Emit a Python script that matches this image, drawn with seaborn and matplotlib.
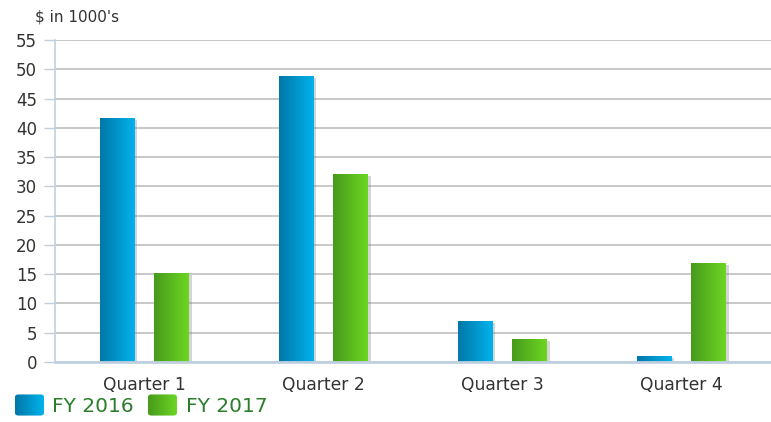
import numpy as np
import pandas as pd
import matplotlib
matplotlib.use("Agg")
import matplotlib.pyplot as plt
import matplotlib.patheffects as pe
from matplotlib.colors import LinearSegmentedColormap
from matplotlib.patches import Rectangle, FancyBboxPatch
import seaborn as sns

quarters = ["Quarter 1", "Quarter 2", "Quarter 3", "Quarter 4"]
series_names = ["FY 2016", "FY 2017"]
fy2016 = [41.6, 48.8, 6.9, 1.0]
fy2017 = [15.1, 32.0, 3.8, 16.8]
y_ticks = [0, 5, 10, 15, 20, 25, 30, 35, 40, 45, 50, 55]
y_title = "$ in 1000's"

grad_colors = {
    "FY 2016": ("#0078a8", "#00b2ec"),
    "FY 2017": ("#489a1c", "#6cd622"),
}

df = pd.DataFrame({
    "quarter": quarters * 2,
    "series": [series_names[0]] * 4 + [series_names[1]] * 4,
    "value": fy2016 + fy2017,
})

sns.set_theme(style="white")
plt.rcParams["font.family"] = ["DejaVu Sans"]

fig = plt.figure(figsize=(7.71, 4.22), dpi=100)
ax = fig.add_axes([55 / 771, 1 - 362 / 422, 1 - 55 / 771, (362 - 40) / 422])

sns.barplot(data=df, x="quarter", y="value", hue="series", order=quarters,
            hue_order=series_names, width=0.61, gap=0.36,
            palette=[grad_colors[s][1] for s in series_names], ax=ax,
            legend=False, zorder=3)

ax.set_xlim(-0.5, len(quarters) - 0.5)
ax.set_ylim(0, 55)
ax.set_yticks(y_ticks)
ax.set_xlabel("")
ax.set_ylabel("")

# gradient fill + soft shadow
bars = [p for p in ax.patches if isinstance(p, Rectangle) and p.get_height() > 0]
grad = np.linspace(0, 1, 64).reshape(1, -1)
for i, p in enumerate(bars):
    s = series_names[0] if p.get_facecolor()[2] > 0.5 else series_names[1]
    cmap = LinearSegmentedColormap.from_list("g", grad_colors[s])
    x0, y0, w, h = p.get_x(), p.get_y(), p.get_width(), p.get_height()
    p.set_facecolor("#dddddd")
    p.set_edgecolor("none")
    p.set_path_effects([pe.withSimplePatchShadow(offset=(2, -1), shadow_rgbFace="#888888", alpha=0.35)])
    ax.imshow(grad, cmap=cmap, extent=[x0, x0 + w, y0, y0 + h], aspect="auto",
              zorder=4, interpolation="bilinear")

ax.set_xlim(-0.5, len(quarters) - 0.5)
ax.set_ylim(0, 55)

# grid and spines
ax.yaxis.grid(True, color="#c4c4c4", linewidth=1.3, zorder=0)
ax.xaxis.grid(False)
for side in ["top", "right"]:
    ax.spines[side].set_visible(False)
ax.spines["left"].set_color("#c0d0e0")
ax.spines["bottom"].set_color("#c0d0e0")
ax.spines["left"].set_linewidth(1.2)
ax.spines["bottom"].set_linewidth(2)
ax.spines["bottom"].set_zorder(5)
ax.tick_params(axis="y", left=True, length=8, width=1, color="#c0d0e0",
               labelsize=12, labelcolor="#333333", pad=5)
ax.tick_params(axis="x", bottom=False, labelsize=12.3, labelcolor="#333333", pad=4)

fig.text(35 / 771, 1 - 17 / 422, y_title, fontsize=11, color="#333333",
         ha="left", va="center")

# legend with gradient swatches (rounded)
leg_items = [(15, 52, series_names[0]), (148, 186, series_names[1])]
for sx, tx, name in leg_items:
    lax = fig.add_axes([sx / 771, 1 - 416 / 422, 29 / 771, 22 / 422])
    lax.set_xlim(0, 1)
    lax.set_ylim(0, 1)
    cmap = LinearSegmentedColormap.from_list("g", grad_colors[name])
    im = lax.imshow(grad, cmap=cmap, aspect="auto", interpolation="bilinear",
                    extent=[0, 1, 0, 1])
    box = FancyBboxPatch((0.06, 0.08), 0.88, 0.84,
                         boxstyle="round,pad=0.06,rounding_size=0.12",
                         transform=lax.transAxes, facecolor="none", edgecolor="none")
    lax.add_patch(box)
    im.set_clip_path(box)
    lax.set_axis_off()
    fig.text(tx / 771, 1 - 406 / 422, name, fontsize=14.5, color="#2a7d2a",
             ha="left", va="center")

fig.savefig("out.png", dpi=100)
